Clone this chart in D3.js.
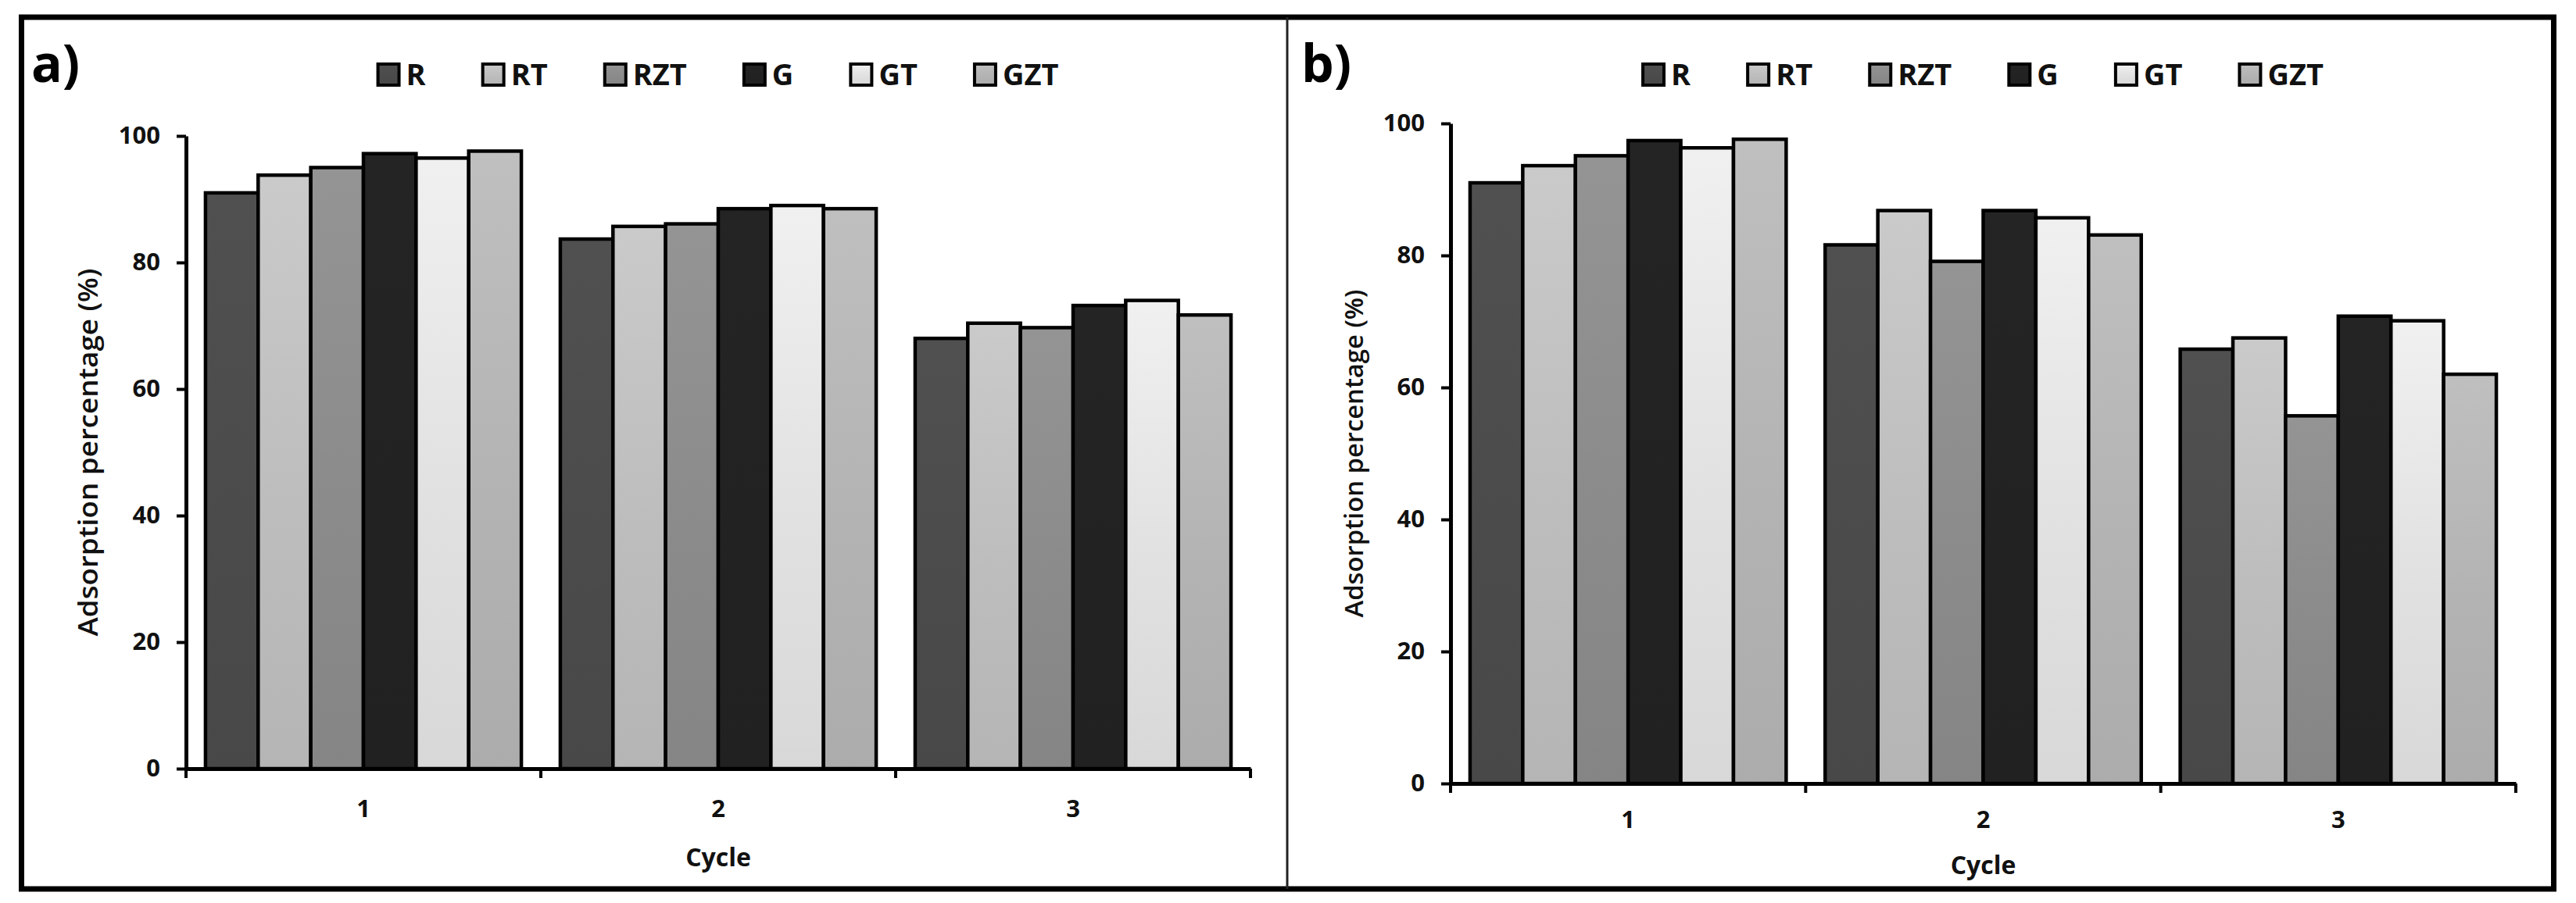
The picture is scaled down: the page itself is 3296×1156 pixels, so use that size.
<!DOCTYPE html>
<html>
<head>
<meta charset="utf-8">
<script src="https://cdn.jsdelivr.net/npm/d3@7/dist/d3.min.js"></script>
<style>
  html, body { margin: 0; padding: 0; background: #fff; }
  text { font-family: "Open Sans", "DejaVu Sans", sans-serif; }
</style>
</head>
<body>
<script>
// categories and series
const cycles = ["1", "2", "3"];
const seriesNames = ["R", "RT", "RZT", "G", "GT", "GZT"];
const yTicks = [0, 20, 40, 60, 80, 100];

// panel a) adsorption percentage per sample, cycles 1..3
const aR   = [91.0, 83.7, 68.0];
const aRT  = [93.8, 85.7, 70.4];
const aRZT = [95.0, 86.1, 69.7];
const aG   = [97.2, 88.5, 73.2];
const aGT  = [96.5, 89.0, 74.0];
const aGZT = [97.6, 88.5, 71.7];

// panel b) adsorption percentage per sample, cycles 1..3
const bR   = [91.0, 81.6, 65.8];
const bRT  = [93.6, 86.8, 67.5];
const bRZT = [95.1, 79.1, 55.7];
const bG   = [97.4, 86.8, 70.8];
const bGT  = [96.3, 85.7, 70.1];
const bGZT = [97.6, 83.1, 62.0];

// grey fill of each series
const fills = ["#4b4b4b", "#bdbdbd", "#8b8b8b", "#222222", "#e1e1e1", "#b3b3b3"];

const W = 3296, H = 1156;

const svg = d3.select("body").append("svg")
    .attr("width", W)
    .attr("height", H);

// vertical gradients, slightly lighter at the top like the excel bars
const defs = svg.append("defs");
seriesNames.forEach((s, i) => {
    const grad = defs.append("linearGradient")
        .attr("id", "grad-" + s)
        .attr("x1", 0).attr("y1", 0).attr("x2", 0).attr("y2", 1);
    grad.append("stop").attr("offset", "0%").attr("stop-color", d3.color(fills[i]).brighter(0.18));
    grad.append("stop").attr("offset", "55%").attr("stop-color", fills[i]);
    grad.append("stop").attr("offset", "100%").attr("stop-color", d3.color(fills[i]).darker(0.12));
});

// outer frame and the divider between the two panels
svg.append("rect")
    .attr("x", 27.5).attr("y", 22)
    .attr("width", 3240).attr("height", 1116)
    .attr("fill", "none")
    .attr("stroke", "#000")
    .attr("stroke-width", 7);

svg.append("line")
    .attr("x1", 1647).attr("x2", 1647)
    .attr("y1", 22).attr("y2", 1138)
    .attr("stroke", "#222")
    .attr("stroke-width", 3);

/**
 * drawPanel
 *
 * Purpose: draws one grouped bar chart (axes, bars, legend, labels).
 *
 * @param {object} opt - layout of the panel
 * @param {Array} values - one array per series, indexed by cycle
 */
function drawPanel(opt, values){
    const g = svg.append("g");

    const x0 = d3.scaleBand()
        .domain(cycles)
        .range([opt.left, opt.right]);

    const x1 = d3.scaleBand()
        .domain(seriesNames)
        .range([0, x0.bandwidth()])
        .paddingInner(0)
        .paddingOuter(0.37);

    const y = d3.scaleLinear()
        .domain([0, 100])
        .range([opt.bottom, opt.top]);

    const rows = cycles.map((c, i) => ({
        cycle: c,
        vals: seriesNames.map((s, j) => ({ s: s, v: values[j][i] }))
    }));

    // bars
    g.selectAll("g.cycle")
        .data(rows)
        .join("g")
            .attr("class", "cycle")
            .attr("transform", d => "translate(" + x0(d.cycle) + ",0)")
        .selectAll("rect")
        .data(d => d.vals)
        .join("rect")
            .attr("x", d => x1(d.s))
            .attr("y", d => y(d.v))
            .attr("width", x1.bandwidth())
            .attr("height", d => y(0) - y(d.v))
            .attr("fill", d => "url(#grad-" + d.s + ")")
            .attr("stroke", "#000")
            .attr("stroke-width", 4.5);

    // y axis
    const yAxis = g.append("g")
        .attr("transform", "translate(" + opt.left + ",0)")
        .call(d3.axisLeft(y).tickValues(yTicks).tickSize(12).tickPadding(21).tickSizeOuter(0));
    yAxis.select(".domain").attr("stroke-width", 5);
    yAxis.selectAll(".tick line").attr("stroke-width", 4);
    yAxis.selectAll(".tick text")
        .attr("font-size", 31)
        .attr("font-weight", 700)
        .attr("font-family", "'Open Sans', sans-serif")
        .attr("fill", "#111");

    // x axis with category labels
    const xAxis = g.append("g")
        .attr("transform", "translate(0," + opt.bottom + ")")
        .call(d3.axisBottom(x0).tickSize(0).tickPadding(opt.catPad).tickSizeOuter(0));
    xAxis.select(".domain").attr("stroke-width", 5);
    xAxis.selectAll(".tick text")
        .attr("font-size", 31)
        .attr("font-weight", 700)
        .attr("font-family", "'Open Sans', sans-serif")
        .attr("fill", "#111");

    // tick marks between the cycles
    const bounds = cycles.map(c => x0(c)).concat([opt.right]);
    g.selectAll("line.bound")
        .data(bounds)
        .join("line")
            .attr("class", "bound")
            .attr("x1", d => d).attr("x2", d => d)
            .attr("y1", opt.bottom).attr("y2", opt.bottom + 12)
            .attr("stroke", "#000")
            .attr("stroke-width", 4);

    // axis titles
    g.append("text")
        .attr("x", (opt.left + opt.right) / 2)
        .attr("y", opt.bottom + opt.cyclePad)
        .attr("text-anchor", "middle")
        .attr("font-size", 32)
        .attr("font-weight", 700)
        .attr("fill", "#111")
        .text("Cycle");

    g.append("text")
        .attr("transform", "translate(" + opt.titleX + "," + (opt.top + opt.bottom) / 2 + ") rotate(-90)")
        .attr("text-anchor", "middle")
        .attr("dominant-baseline", "central")
        .attr("font-size", opt.titleSize)
        .attr("font-weight", 600)
        .attr("fill", "#111")
        .attr("textLength", opt.titleLength)
        .attr("lengthAdjust", "spacingAndGlyphs")
        .text("Adsorption percentage (%)");

    // panel letter
    g.append("text")
        .attr("x", opt.letterX)
        .attr("y", 105)
        .attr("font-size", 66)
        .attr("font-weight", 700)
        .attr("fill", "#000")
        .text(opt.letter);

    // legend, centred over the plot area
    const legend = g.append("g");
    const items = legend.selectAll("g.item")
        .data(seriesNames)
        .join("g")
            .attr("class", "item");
    items.append("rect")
        .attr("width", 27).attr("height", 27)
        .attr("y", 82)
        .attr("fill", d => "url(#grad-" + d + ")")
        .attr("stroke", "#000")
        .attr("stroke-width", 4);
    items.append("text")
        .attr("x", 36)
        .attr("y", 109)
        .attr("font-size", 38)
        .attr("font-weight", 700)
        .attr("fill", "#111")
        .text(d => d);

    const widths = [];
    items.select("text").each(function(){ widths.push(this.getComputedTextLength()); });
    const gap = 73;
    const total = d3.sum(widths, w => 36 + w) + gap * (widths.length - 1);
    let pos = (opt.left + opt.right) / 2 - total / 2;
    items.each(function(d, i){
        d3.select(this).attr("transform", "translate(" + pos + ",0)");
        pos += 36 + widths[i] + gap;
    });
}

drawPanel({
    left: 238, right: 1600, top: 174, bottom: 984,
    catPad: 40, cyclePad: 125,
    titleX: 112, titleSize: 34, titleLength: 471,
    letter: "a)", letterX: 40
}, [aR, aRT, aRZT, aG, aGT, aGZT]);

drawPanel({
    left: 1856, right: 3219, top: 158, bottom: 1003,
    catPad: 35, cyclePad: 116,
    titleX: 1731, titleSize: 32, titleLength: 420,
    letter: "b)", letterX: 1665
}, [bR, bRT, bRZT, bG, bGT, bGZT]);
</script>
</body>
</html>
